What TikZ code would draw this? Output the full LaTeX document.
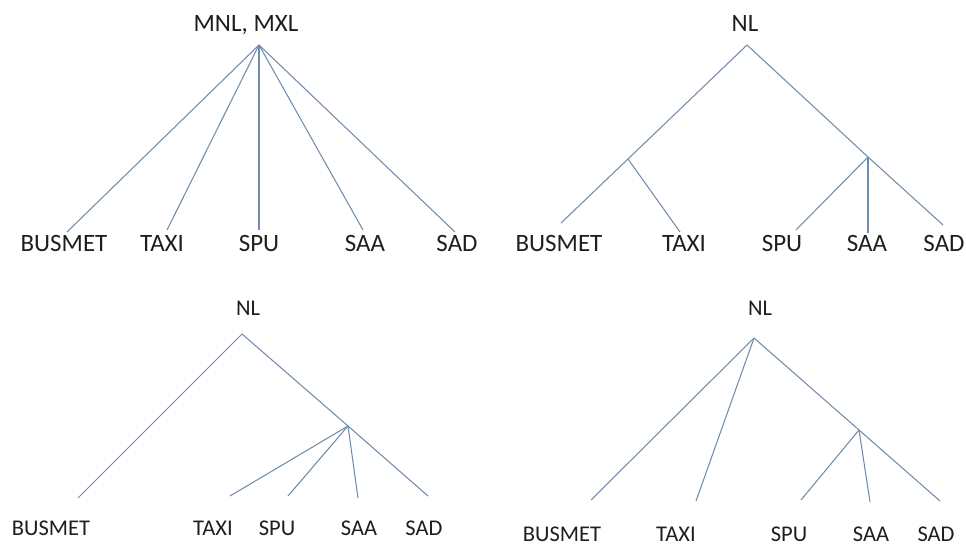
\documentclass[tikz,border=0pt]{standalone}
\usepackage{fontspec}
\setmainfont{Carlito}
\begin{document}
\begin{tikzpicture}[x=0.02cm,y=-0.02cm,
  edge/.style={draw={rgb,255:red,112;green,140;blue,172},line width=0.6pt},
  bigtxt/.style={anchor=base,inner sep=0pt,text={rgb,255:red,30;green,30;blue,30},font=\fontsize{14.2}{16}\selectfont},
  smalltxt/.style={anchor=base,inner sep=0pt,text={rgb,255:red,30;green,30;blue,30},font=\fontsize{12.8}{15}\selectfont}]
\useasboundingbox (0,0) rectangle (966,546);

% ---- Tree A: MNL, MXL (flat) ----
\node[bigtxt] (aT) at (246,32) {MNL, MXL};
\coordinate (aR) at (259,45);
\coordinate (aE1) at (67,232);
\coordinate (aE2) at (167,230);
\coordinate (aE3) at (259,230);
\coordinate (aE4) at (363,230);
\coordinate (aE5) at (455,232);
\node[bigtxt] (aL1) at (64,252) {BUSMET};
\node[bigtxt] (aL2) at (162,252) {TAXI};
\node[bigtxt] (aL3) at (259,252) {SPU};
\node[bigtxt] (aL4) at (365,252) {SAA};
\node[bigtxt] (aL5) at (457,252) {SAD};
\foreach \e in {aE1,aE2,aE3,aE4,aE5} \draw[edge] (aR) -- (\e);

% ---- Tree B: NL with two nests ----
\node[bigtxt] (bT) at (745,32) {NL};
\coordinate (bR) at (747,45);
\coordinate (bN1) at (628,159);
\coordinate (bN2) at (868,157);
\coordinate (bE1) at (561,223);
\coordinate (bE2) at (680,232);
\coordinate (bE3) at (796,230);
\coordinate (bE4) at (868,233);
\coordinate (bE5) at (943,225);
\node[bigtxt] (bL1) at (559,252) {BUSMET};
\node[bigtxt] (bL2) at (684,252) {TAXI};
\node[bigtxt] (bL3) at (782,252) {SPU};
\node[bigtxt] (bL4) at (867,252) {SAA};
\node[bigtxt] (bL5) at (944,252) {SAD};
\draw[edge] (bR) -- (bN1) -- (bE1);
\draw[edge] (bN1) -- (bE2);
\draw[edge] (bR) -- (bN2) -- (bE5);
\draw[edge] (bN2) -- (bE3);
\draw[edge] (bN2) -- (bE4);

% ---- Tree C: NL, four alternatives in one nest ----
\node[smalltxt] (cT) at (248,316) {NL};
\coordinate (cR) at (242,334);
\coordinate (cN) at (348,426);
\coordinate (cE1) at (78,498);
\coordinate (cE2) at (230,496);
\coordinate (cE3) at (288,496);
\coordinate (cE4) at (358,498);
\coordinate (cE5) at (428,496);
\node[smalltxt] (cL1) at (51,536) {BUSMET};
\node[smalltxt] (cL2) at (213,536) {TAXI};
\node[smalltxt] (cL3) at (277,536) {SPU};
\node[smalltxt] (cL4) at (359,536) {SAA};
\node[smalltxt] (cL5) at (424,536) {SAD};
\draw[edge] (cR) -- (cE1);
\draw[edge] (cR) -- (cN) -- (cE5);
\foreach \e in {cE2,cE3,cE4} \draw[edge] (cN) -- (\e);

% ---- Tree D: NL, three-alternative nest ----
\node[smalltxt] (dT) at (760,316) {NL};
\coordinate (dR) at (754,338);
\coordinate (dN) at (859,430);
\coordinate (dE1) at (591,500);
\coordinate (dE2) at (696,501);
\coordinate (dE3) at (801,500);
\coordinate (dE4) at (870,502);
\coordinate (dE5) at (940,501);
\node[smalltxt] (dL1) at (562,541) {BUSMET};
\node[smalltxt] (dL2) at (676,541) {TAXI};
\node[smalltxt] (dL3) at (789,541) {SPU};
\node[smalltxt] (dL4) at (871,541) {SAA};
\node[smalltxt] (dL5) at (936,541) {SAD};
\draw[edge] (dR) -- (dE1);
\draw[edge] (dR) -- (dE2);
\draw[edge] (dR) -- (dN) -- (dE5);
\draw[edge] (dN) -- (dE3);
\draw[edge] (dN) -- (dE4);
\end{tikzpicture}
\end{document}
